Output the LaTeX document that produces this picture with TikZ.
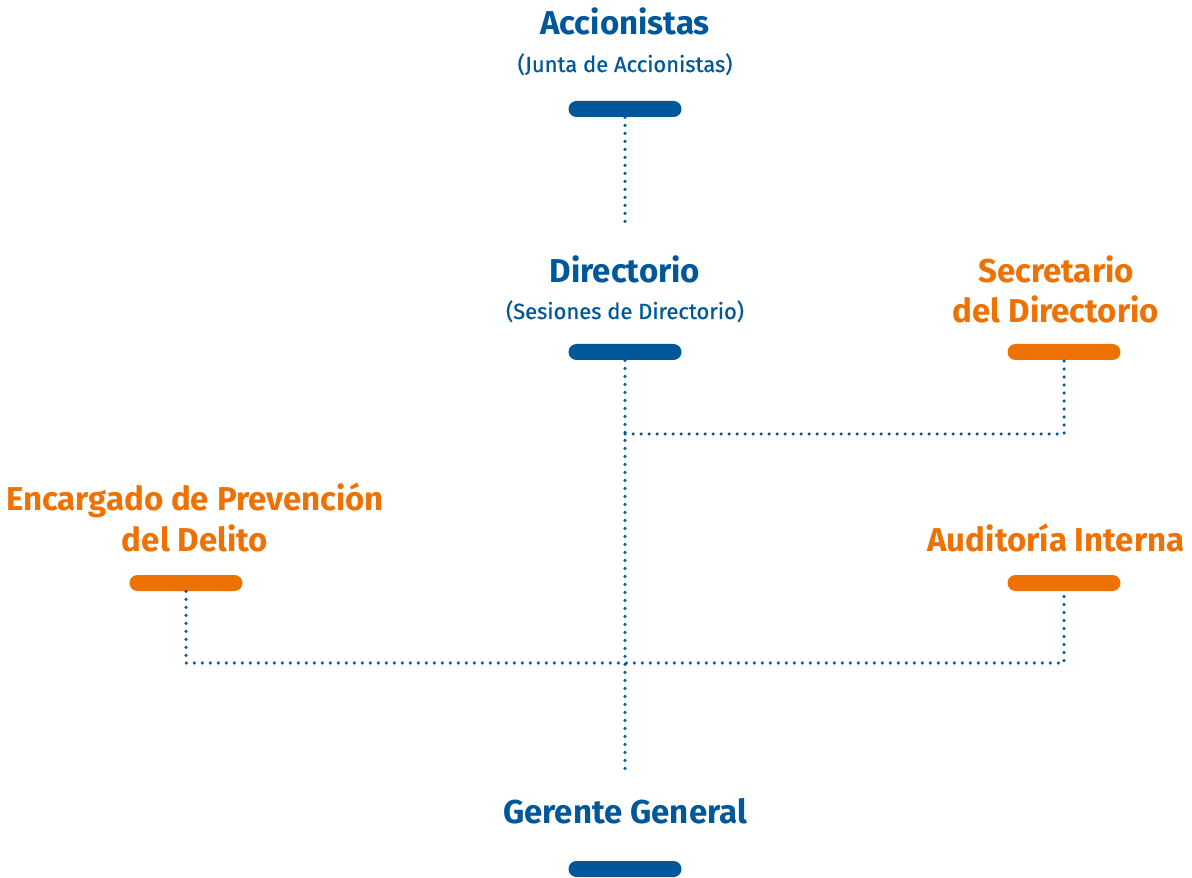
\documentclass[tikz,border=0pt]{standalone}
\usepackage{fontspec}
\setmainfont{Fira Sans}
\newfontfamily\subfont[FakeBold=0.7]{Fira Sans}
\usepackage{tikz}
\usetikzlibrary{positioning}
\definecolor{orgblue}{RGB}{0,88,154}
\definecolor{orgorange}{RGB}{238,114,3}

\begin{document}
\begin{tikzpicture}[auto,node distance=1cm]
  \tikzstyle{bar}=[rectangle,rounded corners=0.16cm,minimum width=2.26cm,
                   minimum height=0.32cm,inner sep=0pt]
  \tikzstyle{title}=[anchor=base,align=center,inner sep=0pt,
                     font=\fontsize{18.8}{22.8}\selectfont\bfseries]
  \tikzstyle{sub}=[anchor=base,inner sep=0pt,font=\fontsize{12.5}{14}\selectfont\subfont]
  \tikzstyle{link}=[orgblue,line width=0.07cm,line cap=round,
                    dash pattern=on 0pt off 0.16cm]

  \useasboundingbox (0,0) rectangle (23.84,-17.56);

  % bars
  \node[bar, fill=orgblue]   (acc) at (12.5,-2.18)  {};
  \node[bar, fill=orgblue]   (dir) at (12.5,-7.04)  {};
  \node[bar, fill=orgorange] (sec) at (21.28,-7.04) {};
  \node[bar, fill=orgorange] (enc) at (3.72,-11.66) {};
  \node[bar, fill=orgorange] (aud) at (21.28,-11.66) {};
  \node[bar, fill=orgblue]   (ger) at (12.5,-17.38) {};

  % labels (base = last line)
  \node[title, text=orgblue]   (accT) at (12.5,-0.70)  {Accionistas};
  \node[sub, text=orgblue]     (accS) at (12.5,-1.44)  {(Junta de Accionistas)};
  \node[title, text=orgblue]   (dirT) at (12.5,-5.66)  {Directorio};
  \node[sub, text=orgblue]     (dirS) at (12.5,-6.38)  {(Sesiones de Directorio)};
  \node[title, text=orgorange] (secT) at (21.12,-6.46) {Secretario\\del Directorio};
  \node[title, text=orgorange] (encT) at (3.90,-11.02) {Encargado de Prevención\\del Delito};
  \node[title, text=orgorange] (audT) at (21.12,-11.02) {Auditoría Interna};
  \node[title, text=orgblue]   (gerT) at (12.5,-16.46) {Gerente General};

  % connectors
  \coordinate (accEnd) at (12.5,-4.46);
  \coordinate (gerEnd) at (12.5,-15.44);
  \coordinate (j1) at (12.5,-8.68);
  \coordinate (j2) at (12.5,-13.26);

  \draw[link] (acc.south) -- (accEnd);
  \draw[link] (dir.south) -- (gerEnd);
  \draw[link] (j1) -| (sec.south);
  \draw[link] (enc.south) |- (j2) -| (aud.south);

\end{tikzpicture}
\end{document}
